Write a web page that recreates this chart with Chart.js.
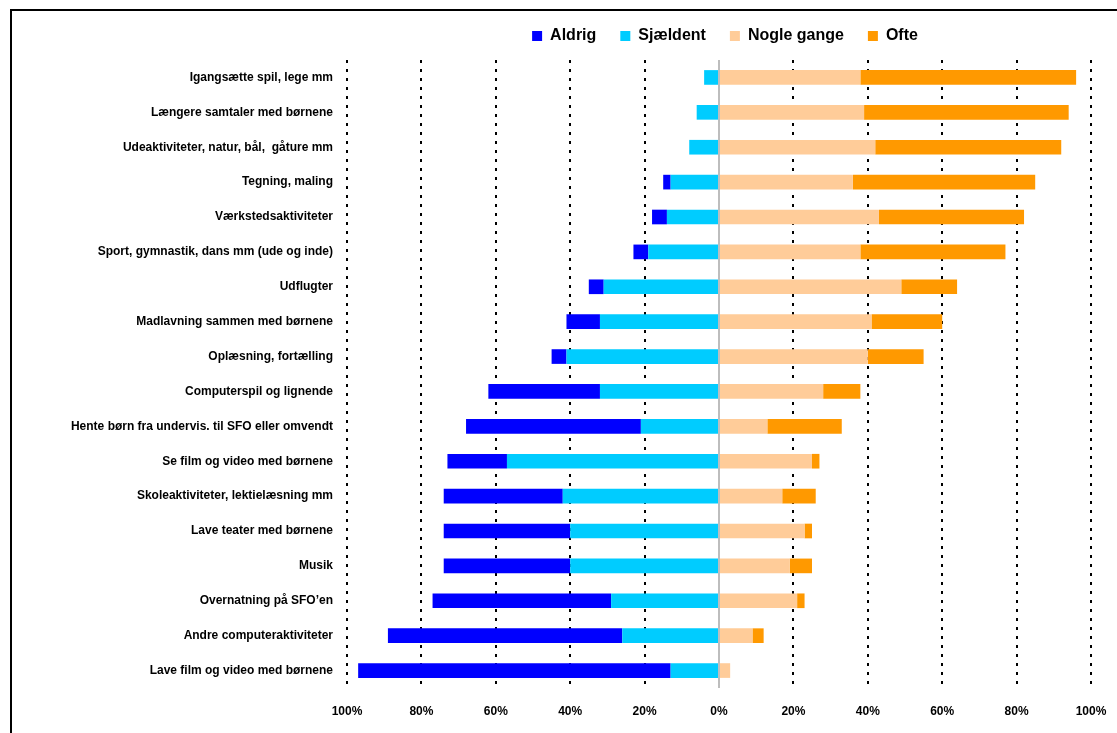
<!DOCTYPE html>
<html>
<head>
<meta charset="utf-8">
<title>Aktiviteter i SFO</title>
<script src="https://cdn.jsdelivr.net/npm/chart.js@4.4.1/dist/chart.umd.min.js"></script>
<style>
	body { margin: 0; overflow: hidden; background: #fff; }
	#wrap { position: relative; width: 1117px; height: 733px; }
	#frame { position: absolute; left: 10px; top: 9px; width: 1200px; height: 800px; border: 2px solid #000; }
	#chart { position: absolute; left: 0; top: 0; }
</style>
</head>
<body>
<div id="wrap">
	<div id="frame"></div>
	<canvas id="chart" width="1117" height="733"></canvas>
</div>
<script>
	var activities = [
		"Igangsætte spil, lege mm",
		"Længere samtaler med børnene",
		"Udeaktiviteter, natur, bål,  gåture mm",
		"Tegning, maling",
		"Værkstedsaktiviteter",
		"Sport, gymnastik, dans mm (ude og inde)",
		"Udflugter",
		"Madlavning sammen med børnene",
		"Oplæsning, fortælling",
		"Computerspil og lignende",
		"Hente børn fra undervis. til SFO eller omvendt",
		"Se film og video med børnene",
		"Skoleaktiviteter, lektielæsning mm",
		"Lave teater med børnene",
		"Musik",
		"Overnatning på SFO’en",
		"Andre computeraktiviteter",
		"Lave film og video med børnene"
	];
	var seriesNames = ["Aldrig", "Sjældent", "Nogle gange", "Ofte"];

	// percentages per answer, same order as activities
	var aldrig     = [0, 0, 0, 2, 4, 4, 4, 9, 4, 30, 47, 16, 32, 34, 34, 48, 63, 84];
	var sjaeldent  = [4, 6, 8, 13, 14, 19, 31, 32, 41, 32, 21, 57, 42, 40, 40, 29, 26, 13];
	var nogleGange = [38, 39, 42, 36, 43, 38, 49, 41, 40, 28, 13, 25, 17, 23, 19, 21, 9, 3];
	var ofte       = [58, 55, 50, 49, 39, 39, 15, 19, 15, 10, 20, 2, 9, 2, 6, 2, 3, 0];

	var axisTicks = [-100, -80, -60, -40, -20, 0, 20, 40, 60, 80, 100];

	var fontFamily = "'Liberation Sans', Arial, sans-serif";

	function negate(arr)
	{
		return arr.map(function(v) { return -v; });
	}

	// legend: fixed height, and centred over the bars instead of the whole canvas
	var legendPlacement = {
		id: 'legendPlacement',
		beforeLayout: function(chart)
		{
			var legend = chart.legend;
			if (!legend._fixedHeight)
			{
				var fit = legend.fit;
				legend.fit = function()
				{
					fit.call(this);
					this.height = 56;
				};
				legend._fixedHeight = true;
			}
		},
		afterLayout: function(chart)
		{
			chart.legend.left = chart.chartArea.left + 12;
			chart.legend.right = chart.chartArea.right;
		}
	};

	window.onload = () =>
	{
		var ctx = document.getElementById('chart').getContext('2d');
		var chartConfig =
		{
			type: 'bar',
			data:
			{
				labels: activities,
				// "Sjældent" first so it sits next to the zero line on the negative side
				datasets: [
					{ label: "Sjældent", data: negate(sjaeldent), backgroundColor: '#00ccff' },
					{ label: "Aldrig", data: negate(aldrig), backgroundColor: '#0000ff' },
					{ label: "Nogle gange", data: nogleGange, backgroundColor: '#ffcc99' },
					{ label: "Ofte", data: ofte, backgroundColor: '#ff9900' }
				]
			},
			options:
			{
				indexAxis: 'y',
				responsive: false,
				animation: false,
				barPercentage: 0.42,
				categoryPercentage: 1,
				layout: { padding: { top: 4, right: 26, bottom: 14, left: 0 } },
				plugins:
				{
					tooltip: { enabled: false },
					legend:
					{
						position: 'top',
						labels:
						{
							boxWidth: 10,
							boxHeight: 10,
							padding: 24,
							color: '#000',
							font: { family: fontFamily, size: 16, weight: 'bold' },
							sort: function(a, b) { return seriesNames.indexOf(a.text) - seriesNames.indexOf(b.text); }
						}
					}
				},
				scales:
				{
					x:
					{
						stacked: true,
						min: -100,
						max: 100,
						afterBuildTicks: function(scale)
						{
							scale.ticks = axisTicks.map(function(v) { return { value: v }; });
						},
						afterFit: function(scale)
						{
							scale.height = 31;
							scale.paddingLeft = 0;
							scale.paddingRight = 0;
						},
						ticks:
						{
							padding: 16,
							color: '#000',
							maxRotation: 0,
							font: { family: fontFamily, size: 12, weight: 'bold' },
							callback: function(v) { return Math.abs(v) + '%'; }
						},
						grid:
						{
							drawTicks: false,
							color: function(c) { return c.tick && c.tick.value === 0 ? '#bdbdbd' : '#000'; },
							lineWidth: 2
						},
						border:
						{
							display: false,
							dash: function(c) { return c.tick && c.tick.value === 0 ? [] : [3, 6]; }
						}
					},
					y:
					{
						stacked: true,
						afterFit: function(scale) { scale.width = 347; },
						ticks:
						{
							padding: 14,
							color: '#000',
							autoSkip: false,
							font: { family: fontFamily, size: 12, weight: 'bold' }
						},
						grid: { display: false, drawTicks: false },
						border: { display: false }
					}
				}
			},
			plugins: [legendPlacement]
		}
		var chart = new Chart(ctx, chartConfig);
	}
</script>
</body>
</html>
